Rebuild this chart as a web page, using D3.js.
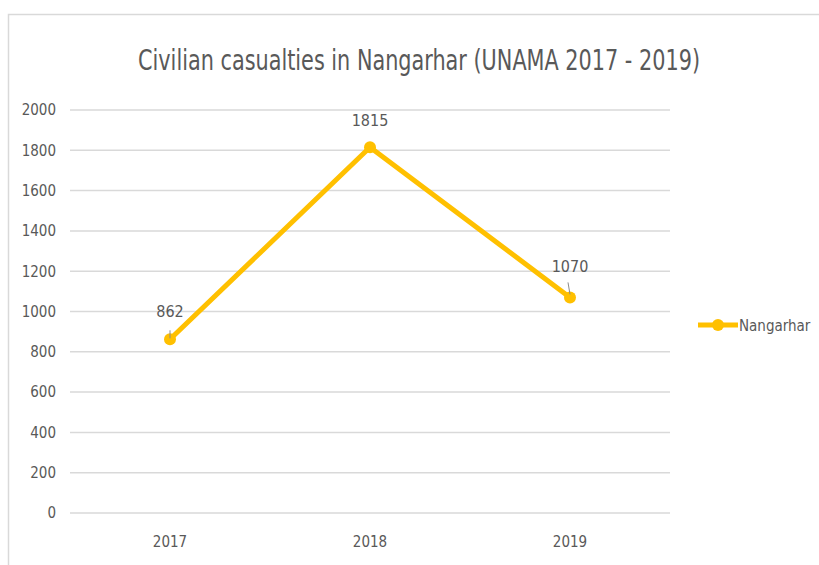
<!DOCTYPE html>
<html>
<head>
<meta charset="utf-8">
<script src="https://cdn.jsdelivr.net/npm/d3@7"></script>
<style>
  body { margin: 0; background: #fff; }
  text { font-family: "Liberation Sans Narrow", "DejaVu Sans Condensed", "Arial Narrow", sans-serif; fill: #595959; }
</style>
</head>
<body>
<div id="chart"></div>
<script>
// chart data
const years = ["2017", "2018", "2019"];
const casualties = [862, 1815, 1070];
const yTicks = [0, 200, 400, 600, 800, 1000, 1200, 1400, 1600, 1800, 2000];
const seriesName = "Nangarhar";

const width = 819, height = 565;
const margin = { top: 110, right: 149, bottom: 52, left: 70 };

const svg = d3.select("#chart")
  .append("svg")
  .attr("width", width)
  .attr("height", height);

// outer chart frame
svg.append("path")
  .attr("d", "M8.5," + height + "V14.5H" + width)
  .attr("fill", "none")
  .attr("stroke", "#d9d9d9")
  .attr("stroke-width", 1.5);

svg.append("text")
  .attr("x", 138)
  .attr("y", 70)
  .attr("textLength", 562)
  .attr("lengthAdjust", "spacingAndGlyphs")
  .style("font-size", "28px")
  .text("Civilian casualties in Nangarhar (UNAMA 2017 - 2019)");

const x = d3.scaleBand()
  .domain(years)
  .range([margin.left, width - margin.right])
  .padding(0);

const y = d3.scaleLinear()
  .domain([0, 2000])
  .range([height - margin.bottom, margin.top]);

// gridlines
svg.append("g")
  .selectAll("line")
  .data(yTicks)
  .enter()
  .append("line")
  .attr("x1", margin.left)
  .attr("x2", width - margin.right)
  .attr("y1", d => y(d))
  .attr("y2", d => y(d))
  .attr("stroke", "#d9d9d9")
  .attr("stroke-width", 1.5);

// y axis labels
const yAxis = svg.append("g")
  .attr("transform", "translate(" + (margin.left - 14) + ",0)")
  .call(d3.axisLeft(y).tickValues(yTicks).tickFormat(d3.format("d")).tickSize(0).tickPadding(0));
yAxis.select(".domain").remove();
yAxis.selectAll("text").style("font-size", "15px").attr("fill", "#595959");

// x axis labels
const xAxis = svg.append("g")
  .attr("transform", "translate(0," + (height - margin.bottom + 23) + ")")
  .call(d3.axisBottom(x).tickSize(0).tickPadding(0));
xAxis.select(".domain").remove();
xAxis.selectAll("text").style("font-size", "15px").attr("fill", "#595959");

const data = years.map((d, i) => ({ year: d, value: casualties[i] }));
const cx = d => x(d.year) + x.bandwidth() / 2;

svg.append("path")
  .datum(data)
  .attr("fill", "none")
  .attr("stroke", "#ffc000")
  .attr("stroke-width", 5)
  .attr("stroke-linejoin", "round")
  .attr("d", d3.line().x(cx).y(d => y(d.value)));

svg.append("g")
  .selectAll("circle")
  .data(data)
  .enter()
  .append("circle")
  .attr("cx", cx)
  .attr("cy", d => y(d.value))
  .attr("r", 6)
  .attr("fill", "#ffc000");

// data labels; the low points get a small leader line
const labelOffset = [-22, -21, -25];
const leader = [[-9, -1, 0], null, [-15, -3, -2]];
svg.append("g")
  .selectAll("line")
  .data(data.filter((d, i) => leader[i]))
  .enter()
  .append("line")
  .attr("x1", d => cx(d) + leader[data.indexOf(d)][2])
  .attr("x2", d => cx(d))
  .attr("y1", d => y(d.value) + leader[data.indexOf(d)][0])
  .attr("y2", d => y(d.value) + leader[data.indexOf(d)][1])
  .attr("stroke", "#8c8c8c")
  .attr("stroke-width", 1);

svg.append("g")
  .selectAll("text")
  .data(data)
  .enter()
  .append("text")
  .attr("x", cx)
  .attr("y", (d, i) => y(d.value) + labelOffset[i])
  .attr("text-anchor", "middle")
  .style("font-size", "16px")
  .text(d => d.value);

// legend
const lg = svg.append("g").attr("transform", "translate(698,325)");
lg.append("line")
  .attr("x1", 0).attr("x2", 40)
  .attr("stroke", "#ffc000")
  .attr("stroke-width", 5);
lg.append("circle")
  .attr("cx", 20)
  .attr("r", 6)
  .attr("fill", "#ffc000");
lg.append("text")
  .attr("x", 41)
  .attr("y", 6)
  .style("font-size", "15px")
  .text(seriesName);
</script>
</body>
</html>
